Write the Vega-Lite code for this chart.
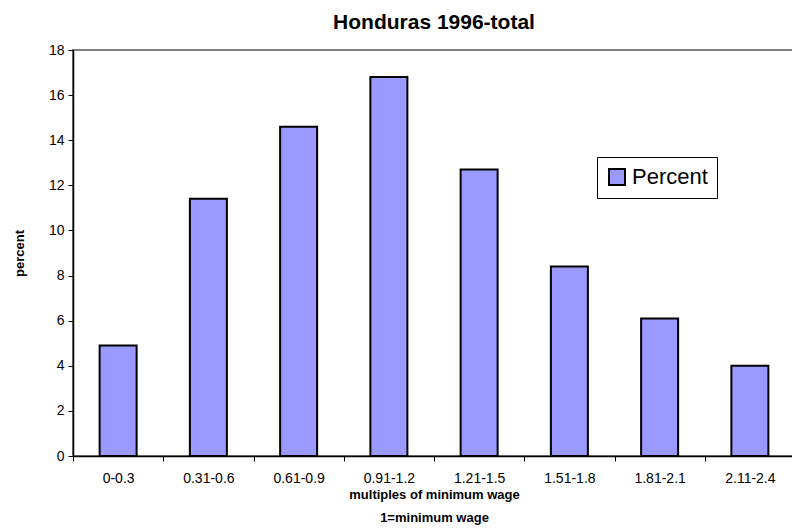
{
  "$schema": "https://vega.github.io/schema/vega-lite/v6.json",
  "autosize": "none",
  "width": 722,
  "height": 406,
  "padding": {"left": 73, "top": 50, "right": 0, "bottom": 72},
  "background": "white",
  "config": {
    "font": "Liberation Sans",
    "view": {"stroke": "#808080", "strokeWidth": 2}
  },
  "title": {
    "text": "Honduras 1996-total",
    "fontSize": 21,
    "fontWeight": "bold",
    "font": "Liberation Sans",
    "color": "black",
    "anchor": "middle",
    "frame": "group",
    "baseline": "alphabetic",
    "offset": 14,
    "dy": 21
  },
  "data": {
    "values": [
      {"range": "0-0.3", "percent": 4.9, "series": "Percent"},
      {"range": "0.31-0.6", "percent": 11.4, "series": "Percent"},
      {"range": "0.61-0.9", "percent": 14.6, "series": "Percent"},
      {"range": "0.91-1.2", "percent": 16.8, "series": "Percent"},
      {"range": "1.21-1.5", "percent": 12.7, "series": "Percent"},
      {"range": "1.51-1.8", "percent": 8.4, "series": "Percent"},
      {"range": "1.81-2.1", "percent": 6.1, "series": "Percent"},
      {"range": "2.11-2.4", "percent": 4.0, "series": "Percent"}
    ]
  },
  "mark": {"type": "bar", "stroke": "black", "strokeWidth": 2, "width": {"band": 0.41}},
  "encoding": {
    "x": {
      "field": "range",
      "type": "nominal",
      "sort": null,
      "scale": {"paddingInner": 0, "paddingOuter": 0},
      "axis": {
        "title": ["multiples of minimum wage", "1=minimum wage"],
        "titleFontSize": 13,
        "titleFontWeight": "bold",
        "titleColor": "black",
        "titleLineHeight": 23,
        "titleBaseline": "top",
        "titleY": 32,
        "labelAngle": 0,
        "labelFontSize": 14,
        "labelColor": "black",
        "labelPadding": 10,
        "tickBand": "extent",
        "tickSize": 5,
        "tickColor": "black",
        "domainColor": "black",
        "domainWidth": 1.5,
        "grid": false
      }
    },
    "y": {
      "field": "percent",
      "type": "quantitative",
      "scale": {"domain": [0, 18]},
      "axis": {
        "title": "percent",
        "titleFontSize": 13,
        "titleFontWeight": "bold",
        "titleColor": "black",
        "titleX": -50,
        "titleY": 203,
        "titleBaseline": "alphabetic",
        "values": [0, 2, 4, 6, 8, 10, 12, 14, 16, 18],
        "labelFontSize": 14,
        "labelColor": "black",
        "labelPadding": 4,
        "tickSize": 5,
        "tickColor": "black",
        "domainColor": "black",
        "domainWidth": 1.5,
        "grid": false
      }
    },
    "color": {
      "field": "series",
      "type": "nominal",
      "scale": {"range": ["#9999FF"]},
      "legend": {
        "title": null,
        "orient": "none",
        "legendX": 524,
        "legendY": 107,
        "symbolType": "square",
        "symbolSize": 256,
        "symbolStrokeColor": "black",
        "symbolStrokeWidth": 2,
        "symbolOpacity": 1,
        "labelFontSize": 22,
        "labelColor": "black",
        "labelOffset": 4,
        "padding": 9,
        "strokeColor": "black",
        "fillColor": "white"
      }
    }
  }
}
